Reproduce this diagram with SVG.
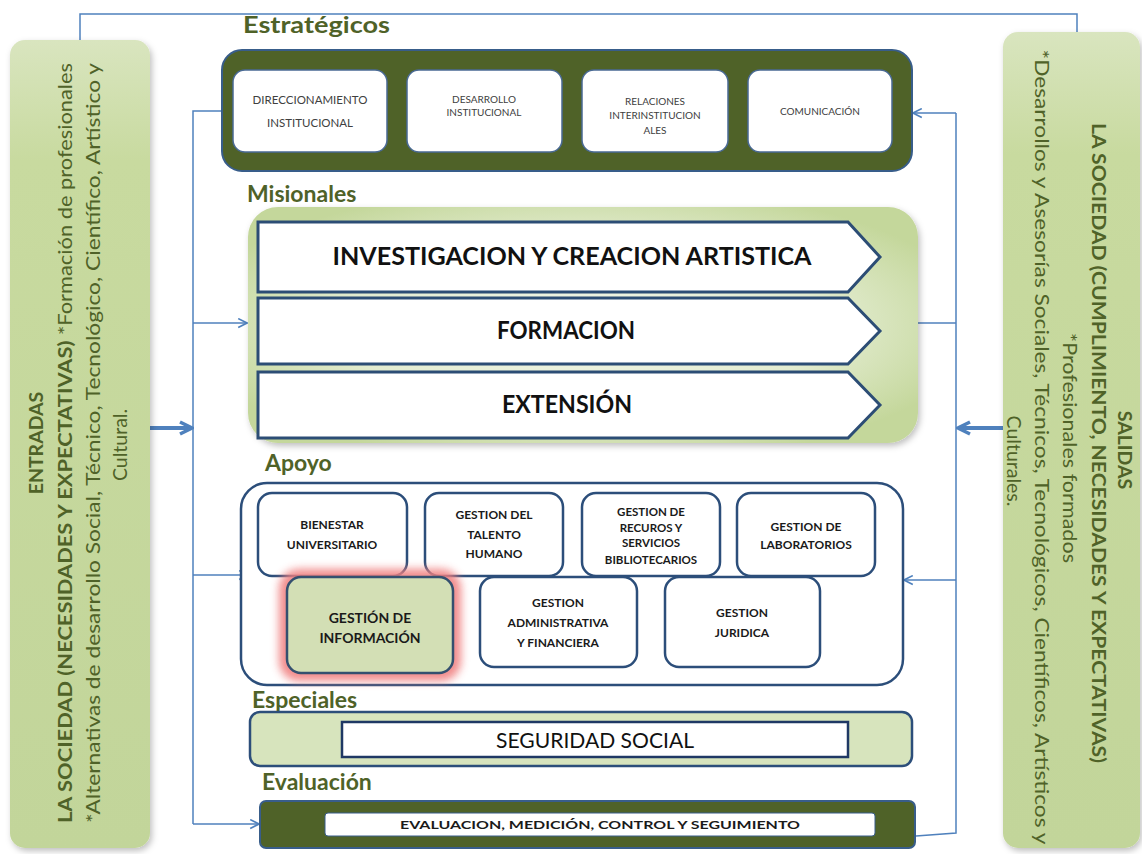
<svg xmlns="http://www.w3.org/2000/svg" width="1142" height="854" viewBox="0 0 1142 854">
  <style>
    .lbl { font-family: Lato, "Open Sans", sans-serif; font-weight: bold; font-size: 23px; fill: #4f6228; }
    .side { font-family: Lato, "Open Sans", sans-serif; font-size: 19.5px; fill: #4f6228; }
    .sideB { font-weight: bold; }
    .str { font-family: Lato, "Open Sans", sans-serif; fill: #404040; text-anchor: middle; }
    .mis { font-family: Lato, "Open Sans", sans-serif; font-weight: bold; font-size: 24px; fill: #111; text-anchor: middle; }
    .apo { font-family: Lato, "Open Sans", sans-serif; font-weight: bold; fill: #1a1a1a; text-anchor: middle; }
    .conn { fill: none; stroke: #4f81bd; stroke-width: 1.5; }
    .thick { fill: none; stroke: #4f81bd; stroke-width: 4; }
    .inbox { fill: #fff; stroke: #4a6a94; stroke-width: 1.5; }
    .abox { fill: #fff; stroke: #2c4e7a; stroke-width: 2.5; }
    .chev { fill: #fff; stroke: #2c4d75; stroke-width: 3; }
  </style>
  <defs>
    <linearGradient id="panelGrad" x1="0" y1="0" x2="0" y2="1">
      <stop offset="0" stop-color="#d9e5bf"/>
      <stop offset="0.15" stop-color="#c8da9f"/>
      <stop offset="1" stop-color="#c2d59a"/>
    </linearGradient>
    <radialGradient id="misGrad" cx="0.5" cy="0.5" r="0.6">
      <stop offset="0" stop-color="#f3f7ea"/>
      <stop offset="0.6" stop-color="#e3ecd0"/>
      <stop offset="1" stop-color="#c4d79b"/>
    </radialGradient>
    <filter id="soft" x="-10%" y="-10%" width="120%" height="125%">
      <feDropShadow dx="2" dy="3" stdDeviation="3" flood-color="#000" flood-opacity="0.25"/>
    </filter>
    <filter id="glow" x="-30%" y="-30%" width="160%" height="160%">
      <feGaussianBlur stdDeviation="4"/>
    </filter>
    <marker id="arr" viewBox="0 0 10 10" refX="9" refY="5" markerWidth="11" markerHeight="11" markerUnits="userSpaceOnUse" orient="auto">
      <path d="M1,1 L9,5 L1,9" fill="none" stroke="#4f81bd" stroke-width="1.5"/>
    </marker>
    <marker id="arrBig" viewBox="0 0 16 16" refX="14" refY="8" markerWidth="16" markerHeight="16" markerUnits="userSpaceOnUse" orient="auto">
      <path d="M2,2 L14,8 L2,14" fill="none" stroke="#4f81bd" stroke-width="3.5"/>
    </marker>
  </defs>

  <rect width="1142" height="854" fill="#fff"/>

  <!-- connectors -->
  <g id="connectors">
    <polyline class="conn" points="80,40 80,14 1077,14 1077,32"/>
    <polyline class="conn" points="222,111 193,111 193,824"/>
    <line class="conn" x1="193" y1="323" x2="247" y2="323" marker-end="url(#arr)"/>
    <line class="conn" x1="193" y1="575" x2="248" y2="575" marker-end="url(#arr)"/>
    <line class="conn" x1="193" y1="824" x2="259" y2="824" marker-end="url(#arr)"/>
    <polyline class="conn" points="956,113 956,833 916,836"/>
    <line class="conn" x1="956" y1="113" x2="913" y2="113" marker-end="url(#arr)"/>
    <line class="conn" x1="956" y1="323" x2="908" y2="323" marker-end="url(#arr)"/>
    <line class="conn" x1="956" y1="580" x2="904" y2="580" marker-end="url(#arr)"/>
    <line class="thick" x1="150" y1="428" x2="192" y2="428" marker-end="url(#arrBig)"/>
    <line class="thick" x1="1003" y1="428" x2="958" y2="428" marker-end="url(#arrBig)"/>
  </g>

  <!-- inputs panel -->
  <g id="entradas">
    <rect x="10" y="40" width="140" height="808" rx="15" fill="url(#panelGrad)" filter="url(#soft)"/>
    <text class="side sideB" transform="translate(43,443) rotate(-90)" text-anchor="middle">ENTRADAS</text>
    <text class="side" transform="translate(72,443) rotate(-90)" text-anchor="middle" textLength="760" lengthAdjust="spacingAndGlyphs"><tspan class="sideB">LA SOCIEDAD (NECESIDADES Y EXPECTATIVAS)</tspan> *Formación de profesionales</text>
    <text class="side" transform="translate(100,443) rotate(-90)" text-anchor="middle" textLength="760" lengthAdjust="spacingAndGlyphs">*Alternativas de desarrollo Social, Técnico, Tecnológico, Científico, Artístico y</text>
    <text class="side" transform="translate(127,445) rotate(-90)" text-anchor="middle">Cultural.</text>
  </g>

  <!-- outputs panel -->
  <g id="salidas">
    <rect x="1003" y="32" width="137" height="816" rx="15" fill="url(#panelGrad)" filter="url(#soft)"/>
    <text class="side sideB" transform="translate(1118,450) rotate(90)" text-anchor="middle">SALIDAS</text>
    <text class="side sideB" transform="translate(1092,443) rotate(90)" text-anchor="middle" textLength="640" lengthAdjust="spacingAndGlyphs">LA SOCIEDAD (CUMPLIMIENTO, NECESIDADES Y EXPECTATIVAS)</text>
    <text class="side" transform="translate(1063,448) rotate(90)" text-anchor="middle" textLength="230" lengthAdjust="spacingAndGlyphs">*Profesionales formados</text>
    <text class="side" transform="translate(1035,447) rotate(90)" text-anchor="middle" textLength="795" lengthAdjust="spacingAndGlyphs">*Desarrollos y Asesorías Sociales, Técnicos, Tecnológicos, Científicos, Artísticos y</text>
    <text class="side" transform="translate(1007,461) rotate(90)" text-anchor="middle">Culturales.</text>
  </g>

  <!-- strategic processes -->
  <g id="estrategicos">
    <text class="lbl" x="243" y="33" textLength="147" lengthAdjust="spacingAndGlyphs">Estratégicos</text>
    <rect x="222" y="50" width="690" height="121" rx="20" fill="#4f6228" stroke="#385d8a" stroke-width="2"/>
    <g id="direccionamiento">
      <rect class="inbox" x="233" y="70" width="154" height="82" rx="12"/>
      <text class="str" x="310" y="104" style="font-size:11.5px">DIRECCIONAMIENTO</text>
      <text class="str" x="310" y="127" style="font-size:11.5px">INSTITUCIONAL</text>
    </g>
    <g id="desarrollo">
      <rect class="inbox" x="407" y="70" width="155" height="82" rx="12"/>
      <text class="str" x="484" y="103" style="font-size:10px">DESARROLLO</text>
      <text class="str" x="484" y="116" style="font-size:10px">INSTITUCIONAL</text>
    </g>
    <g id="relaciones">
      <rect class="inbox" x="582" y="70" width="146" height="82" rx="12"/>
      <text class="str" x="655" y="105" style="font-size:10px">RELACIONES</text>
      <text class="str" x="655" y="119" style="font-size:10px">INTERINSTITUCION</text>
      <text class="str" x="655" y="134" style="font-size:10px">ALES</text>
    </g>
    <g id="comunicacion">
      <rect class="inbox" x="748" y="70" width="144" height="82" rx="12"/>
      <text class="str" x="820" y="115" style="font-size:10px">COMUNICACIÓN</text>
    </g>
  </g>

  <!-- mission processes -->
  <g id="misionales">
    <text class="lbl" x="247" y="202">Misionales</text>
    <rect x="248" y="207" width="670" height="236" rx="30" fill="url(#misGrad)" filter="url(#soft)"/>
    <g id="investigacion">
      <path class="chev" d="M258,222 H848 L880,257 L848,292 H258 Z"/>
      <text class="mis" x="572" y="265" textLength="479" lengthAdjust="spacingAndGlyphs">INVESTIGACION Y CREACION ARTISTICA</text>
    </g>
    <g id="formacion">
      <path class="chev" d="M258,298 H848 L880,331 L848,364 H258 Z"/>
      <text class="mis" x="566" y="339" textLength="138" lengthAdjust="spacingAndGlyphs">FORMACION</text>
    </g>
    <g id="extension">
      <path class="chev" d="M258,372 H848 L880,405 L848,438 H258 Z"/>
      <text class="mis" x="567" y="413" textLength="130" lengthAdjust="spacingAndGlyphs">EXTENSIÓN</text>
    </g>
  </g>

  <!-- support processes -->
  <g id="apoyo">
    <text class="lbl" x="265" y="471">Apoyo</text>
    <rect class="abox" x="241" y="483" width="662" height="202" rx="26"/>
    <g id="bienestar">
      <rect class="abox" x="258" y="493" width="149" height="83" rx="14"/>
      <text class="apo" x="332" y="529" style="font-size:12px">BIENESTAR</text>
      <text class="apo" x="332" y="549" style="font-size:12px">UNIVERSITARIO</text>
    </g>
    <g id="talento">
      <rect class="abox" x="425" y="493" width="138" height="83" rx="14"/>
      <text class="apo" x="494" y="519" style="font-size:12px">GESTION DEL</text>
      <text class="apo" x="494" y="539" style="font-size:12px">TALENTO</text>
      <text class="apo" x="494" y="558" style="font-size:12px">HUMANO</text>
    </g>
    <g id="recursos">
      <rect class="abox" x="582" y="493" width="138" height="83" rx="14"/>
      <text class="apo" x="651" y="516" style="font-size:11.5px">GESTION DE</text>
      <text class="apo" x="651" y="532" style="font-size:11.5px">RECUROS Y</text>
      <text class="apo" x="651" y="547" style="font-size:11.5px">SERVICIOS</text>
      <text class="apo" x="651" y="564" style="font-size:11.5px">BIBLIOTECARIOS</text>
    </g>
    <g id="laboratorios">
      <rect class="abox" x="737" y="493" width="138" height="83" rx="14"/>
      <text class="apo" x="806" y="531" style="font-size:12px">GESTION DE</text>
      <text class="apo" x="806" y="549" style="font-size:12px">LABORATORIOS</text>
    </g>
    <g id="informacion">
      <rect x="279" y="569" width="182" height="112" rx="20" fill="#f08080" opacity="0.9" filter="url(#glow)"/>
      <rect x="287" y="577" width="166" height="96" rx="14" fill="#d3dfb5" stroke="#34506f" stroke-width="2.5"/>
      <text class="apo" x="370" y="623" style="font-size:14px">GESTIÓN DE</text>
      <text class="apo" x="370" y="643" style="font-size:14px">INFORMACIÓN</text>
    </g>
    <g id="administrativa">
      <rect class="abox" x="480" y="577" width="157" height="90" rx="14"/>
      <text class="apo" x="558" y="607" style="font-size:12px">GESTION</text>
      <text class="apo" x="558" y="627" style="font-size:12px">ADMINISTRATIVA</text>
      <text class="apo" x="558" y="647" style="font-size:12px">Y FINANCIERA</text>
    </g>
    <g id="juridica">
      <rect class="abox" x="665" y="577" width="155" height="90" rx="14"/>
      <text class="apo" x="742" y="617" style="font-size:12px">GESTION</text>
      <text class="apo" x="742" y="637" style="font-size:12px">JURIDICA</text>
    </g>
  </g>

  <!-- special processes -->
  <g id="especiales">
    <text class="lbl" x="252" y="708">Especiales</text>
    <rect x="250" y="712" width="662" height="54" rx="10" fill="#d7e4bd" stroke="#2c4e7a" stroke-width="2.5"/>
    <rect x="342" y="722" width="506" height="35" fill="#fff" stroke="#1f3864" stroke-width="2.5"/>
    <text x="595" y="748" text-anchor="middle" font-family="Lato, 'Open Sans', sans-serif" font-size="22" fill="#111" textLength="198" lengthAdjust="spacingAndGlyphs">SEGURIDAD SOCIAL</text>
  </g>

  <!-- evaluation -->
  <g id="evaluacion">
    <text class="lbl" x="262" y="790">Evaluación</text>
    <rect x="260" y="801" width="655" height="47" rx="6" fill="#4f6228" stroke="#385d8a" stroke-width="2"/>
    <rect x="325" y="813" width="550" height="23" rx="3" fill="#fff" stroke="#385d8a" stroke-width="1"/>
    <text x="600" y="829" text-anchor="middle" font-family="Lato, 'Open Sans', sans-serif" font-weight="bold" font-size="12" fill="#1a1a1a" textLength="400" lengthAdjust="spacingAndGlyphs">EVALUACION, MEDICIÓN, CONTROL Y SEGUIMIENTO</text>
  </g>
</svg>
